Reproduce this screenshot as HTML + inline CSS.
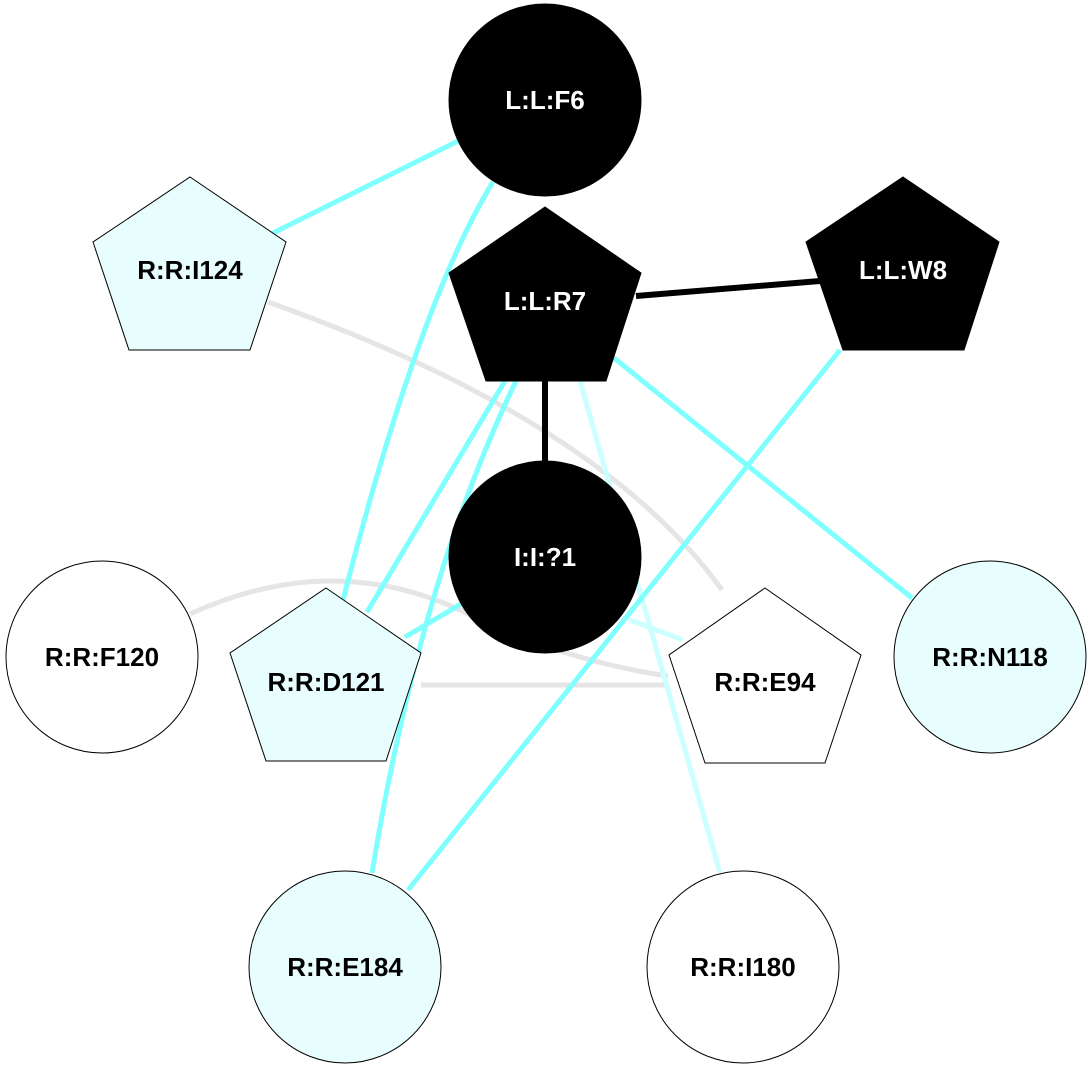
<!DOCTYPE html>
<html><head><meta charset="utf-8"><style>
html,body{margin:0;padding:0;background:#fff}
svg{display:block}
text{font-family:"Liberation Sans",Arial,sans-serif;font-weight:bold;font-size:26px;text-anchor:middle;dominant-baseline:central}
</style></head><body>
<svg width="1092" height="1070" viewBox="0 0 1092 1070">
<rect width="1092" height="1070" fill="#fff"/>
<g fill="none" stroke-width="5">
<path d="M268,302 Q600,420 722,590" stroke="#e5e5e5"/>
<path d="M190,614 Q330,550 460,610 Q560,660 668,676" stroke="#e5e5e5"/>
<path d="M421,685 L669,685" stroke="#e5e5e5"/>
<path d="M460,140 L273,233" stroke="#80ffff"/>
<path d="M493,182 Q420,300 343,600" stroke="#80ffff"/>
<path d="M614,358 L912,598" stroke="#80ffff"/>
<path d="M505,381 L367,612" stroke="#80ffff"/>
<path d="M516,381 Q420,580 372,873" stroke="#80ffff"/>
<path d="M580,381 L720,873" stroke="#ccffff"/>
<path d="M840,350 L408,890" stroke="#80ffff"/>
<path d="M405,637 L468,600" stroke="#80ffff"/>
<path d="M630,620 L683,640" stroke="#ccffff"/>
<path d="M636,296 L820,281" stroke="#000" stroke-width="6"/>
<path d="M545,381 L545,462" stroke="#000" stroke-width="6"/>
</g>
<g stroke="#000" stroke-width="1">
<circle cx="545" cy="100" r="96" fill="#000"/>
<polygon points="190,177 286,242 250,350 129,350 93,242" fill="#e8fdfd"/>
<polygon points="545,207 641,273 606,381 486,381 449,273" fill="#000"/>
<polygon points="903,177 999,242 964,350 843,350 806,242" fill="#000"/>
<circle cx="545" cy="557" r="96" fill="#000"/>
<circle cx="102" cy="657" r="96" fill="#fff"/>
<polygon points="326,588 421,653 386,761 266,761 230,653" fill="#e8fdfd"/>
<polygon points="765,588 861,655 825,763 705,763 669,655" fill="#fff"/>
<circle cx="990" cy="657" r="96" fill="#e8fdfd"/>
<circle cx="345" cy="967" r="96" fill="#e8fdfd"/>
<circle cx="743" cy="967" r="96" fill="#fff"/>
</g>
<text x="545" y="100" fill="#fff">L:L:F6</text>
<text x="190" y="270">R:R:I124</text>
<text x="545" y="301" fill="#fff">L:L:R7</text>
<text x="903" y="270" fill="#fff">L:L:W8</text>
<text x="545" y="557" fill="#fff">I:I:?1</text>
<text x="102" y="657">R:R:F120</text>
<text x="326" y="682">R:R:D121</text>
<text x="765" y="682">R:R:E94</text>
<text x="990" y="657">R:R:N118</text>
<text x="345" y="967">R:R:E184</text>
<text x="743" y="967">R:R:I180</text>
</svg>
</body></html>
